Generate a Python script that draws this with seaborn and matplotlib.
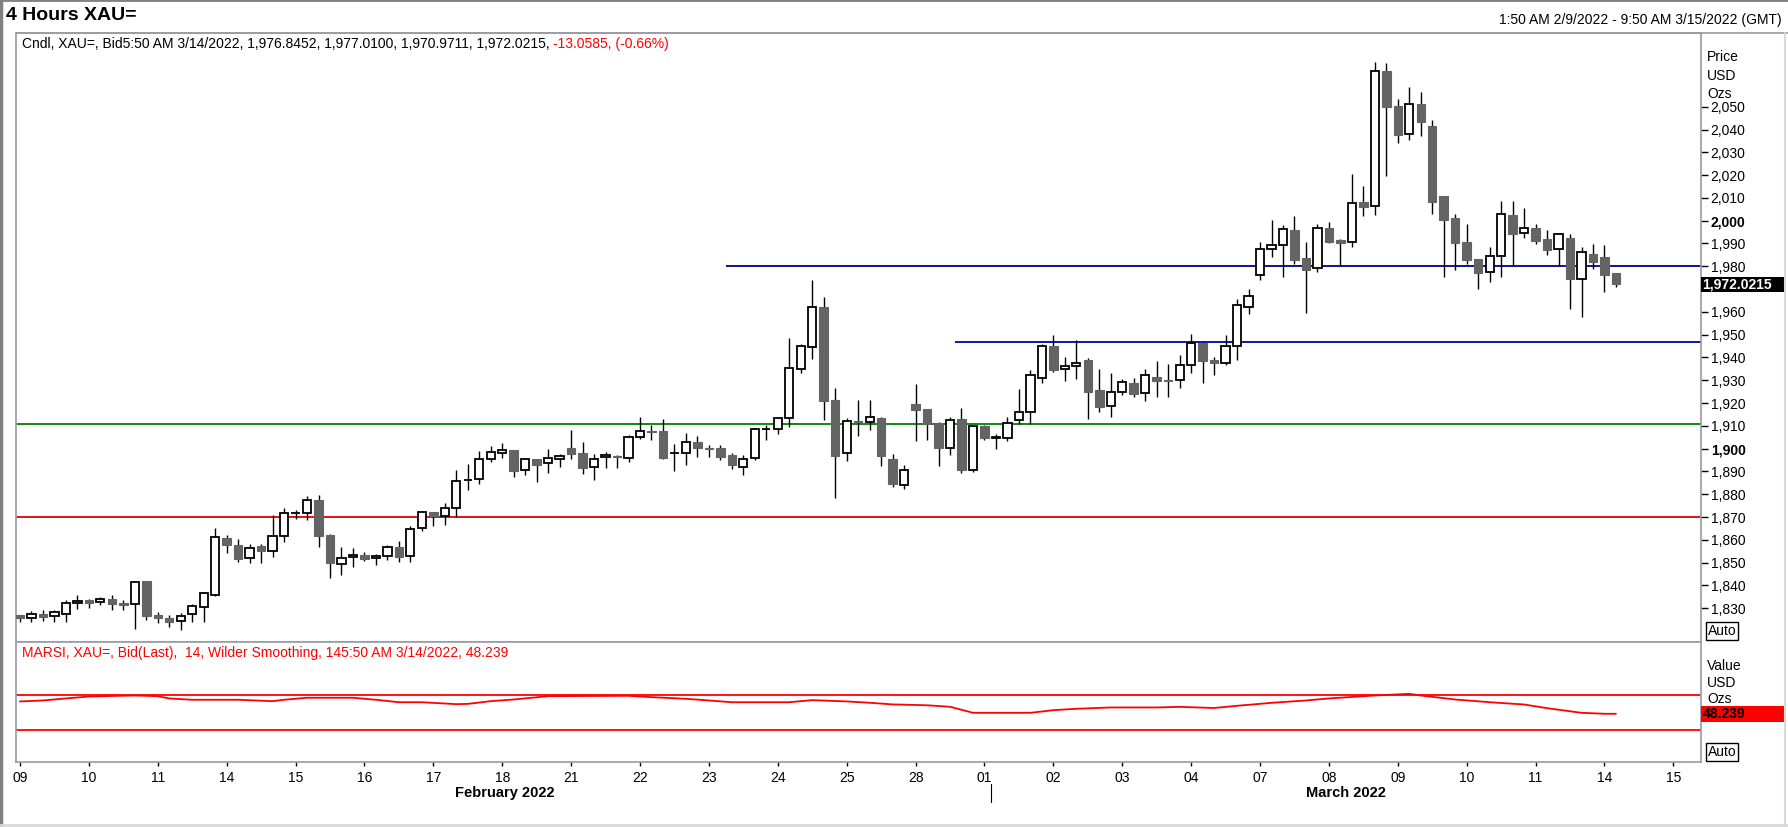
import matplotlib
matplotlib.use("Agg")
import matplotlib.pyplot as plt
import matplotlib.transforms as mtransforms
from matplotlib.patches import Rectangle
from matplotlib.lines import Line2D
import numpy as np
import pandas as pd
import seaborn as sns

# 4 hour XAU= candles, 1:50 AM 2/9/2022 .. 5:50 AM 3/14/2022 (6 bars a day)
opens = [
    1826.9, 1825.6, 1827.5, 1826.5, 1827.4, 1832.2, 1833.4, 1832.6, 1834.1, 1832.3,
    1831.7, 1842.0, 1826.9, 1825.7, 1824.3, 1827.4, 1830.7, 1835.7, 1860.8, 1857.8,
    1851.9, 1857.3, 1855.0, 1861.9, 1871.6, 1871.7, 1877.5, 1862.1, 1849.6, 1852.3,
    1853.4, 1851.9, 1852.8, 1857.0, 1852.8, 1865.1, 1872.2, 1870.6, 1873.8, 1886.1,
    1886.6, 1895.3, 1898.3, 1899.4, 1890.5, 1895.5, 1893.6, 1895.3, 1900.3, 1898.1,
    1891.8, 1896.2, 1896.8, 1896.1, 1905.0, 1907.6, 1907.8, 1897.97, 1898.3, 1902.9,
    1900.2, 1900.3, 1897.2, 1892.1, 1896.1, 1908.5, 1908.8, 1913.3, 1935.1, 1944.5,
    1962.1, 1921.4, 1898.0, 1912.0, 1911.9, 1913.5, 1895.4, 1884.2, 1919.6, 1917.4,
    1911.3, 1900.2, 1913.1, 1890.8, 1909.96, 1904.8, 1904.8, 1912.4, 1916.0, 1930.9,
    1945.0, 1934.8, 1936.1, 1938.8, 1925.6, 1918.6, 1924.7, 1928.8, 1924.3, 1931.3,
    1930.0, 1930.0, 1936.6, 1946.5, 1938.8, 1937.7, 1944.9, 1962.0, 1976.0, 1987.4,
    1989.2, 1995.9, 1983.5, 1979.1, 1996.7, 1991.4, 1990.5, 2008.2, 2006.3, 2065.7,
    2050.3, 2037.9, 2051.2, 2041.5, 2010.8, 2001.2, 1990.7, 1983.2, 1977.4, 1984.4,
    2002.5, 1994.5, 1996.7, 1992.0, 1987.4, 1992.4, 1974.3, 1985.4, 1984.1, 1976.8452,
]
highs = [
    1827.2, 1828.8, 1829.1, 1829.1, 1833.5, 1835.8, 1834.2, 1835.1, 1835.8, 1833.6,
    1841.8, 1842.0, 1828.4, 1826.9, 1828.0, 1831.9, 1837.2, 1865.2, 1862.1, 1860.4,
    1858.3, 1858.1, 1870.8, 1874.0, 1873.3, 1879.3, 1879.5, 1862.6, 1856.9, 1856.3,
    1854.5, 1853.8, 1857.8, 1859.5, 1866.1, 1872.7, 1872.3, 1876.2, 1890.7, 1893.3,
    1899.0, 1901.2, 1902.5, 1899.6, 1895.9, 1895.6, 1899.9, 1897.8, 1908.2, 1902.9,
    1897.7, 1898.6, 1897.4, 1906.2, 1913.9, 1910.4, 1913.0, 1902.1, 1906.9, 1905.6,
    1901.4, 1901.6, 1898.1, 1897.1, 1908.9, 1910.4, 1913.5, 1948.6, 1945.9, 1974.0,
    1966.5, 1926.5, 1913.5, 1921.4, 1921.4, 1914.0, 1897.7, 1892.85, 1928.4, 1917.5,
    1911.5, 1913.9, 1917.9, 1910.0, 1910.4, 1906.3, 1913.9, 1926.2, 1934.4, 1945.8,
    1949.9, 1940.2, 1947.7, 1939.8, 1935.0, 1933.2, 1930.6, 1931.0, 1935.0, 1938.3,
    1937.2, 1941.1, 1950.3, 1946.6, 1940.1, 1949.9, 1965.7, 1970.0, 1990.7, 2000.3,
    1998.1, 2002.1, 1990.7, 1998.6, 1999.3, 1992.0, 2020.5, 2015.2, 2069.6, 2069.2,
    2053.4, 2058.6, 2056.4, 2044.2, 2010.9, 2002.9, 1998.6, 1983.3, 1988.5, 2008.5,
    2008.5, 2005.6, 1998.6, 1995.8, 1994.6, 1994.2, 1988.5, 1989.8, 1989.3, 1977.0100,
]
lows = [
    1824.1, 1824.1, 1824.6, 1824.1, 1824.1, 1829.8, 1830.3, 1831.3, 1829.4, 1829.3,
    1820.9, 1824.9, 1823.7, 1821.9, 1820.5, 1824.1, 1824.1, 1835.5, 1854.4, 1850.3,
    1849.9, 1849.9, 1852.6, 1859.2, 1869.2, 1868.7, 1857.0, 1843.4, 1844.5, 1848.3,
    1850.5, 1849.0, 1851.3, 1850.3, 1850.3, 1864.0, 1866.2, 1866.7, 1869.9, 1881.9,
    1884.7, 1894.2, 1896.1, 1887.7, 1888.6, 1885.5, 1889.5, 1892.1, 1895.5, 1888.9,
    1886.3, 1891.7, 1891.7, 1894.2, 1904.4, 1903.8, 1895.5, 1890.4, 1892.9, 1896.5,
    1896.5, 1895.1, 1891.1, 1888.6, 1895.1, 1903.8, 1906.4, 1909.7, 1933.2, 1939.5,
    1912.7, 1878.5, 1894.8, 1905.7, 1908.2, 1892.6, 1883.0, 1882.5, 1903.5, 1903.8,
    1892.4, 1897.2, 1889.5, 1889.9, 1904.0, 1900.0, 1903.5, 1910.8, 1910.8, 1929.0,
    1933.6, 1929.8, 1930.7, 1913.2, 1916.0, 1914.1, 1923.7, 1922.8, 1921.1, 1922.8,
    1922.8, 1926.8, 1933.4, 1929.0, 1932.5, 1936.7, 1939.1, 1959.2, 1974.0, 1984.2,
    1975.5, 1980.9, 1959.7, 1977.7, 1990.1, 1980.0, 1988.6, 2002.2, 2002.6, 2019.6,
    2034.2, 2035.5, 2037.3, 2002.8, 1975.5, 1978.4, 1980.9, 1969.9, 1973.3, 1975.5,
    1980.0, 1992.6, 1989.8, 1984.9, 1980.0, 1961.1, 1957.9, 1979.0, 1968.9, 1970.9711,
]
closes = [
    1825.5, 1827.4, 1826.3, 1828.4, 1832.2, 1833.2, 1832.5, 1834.0, 1832.0, 1831.2,
    1841.4, 1826.8, 1825.5, 1824.1, 1826.5, 1830.9, 1836.6, 1861.1, 1857.9, 1851.8,
    1856.3, 1855.3, 1861.6, 1871.7, 1871.7, 1877.4, 1861.9, 1850.0, 1851.9, 1853.2,
    1851.8, 1852.9, 1856.9, 1852.6, 1864.8, 1872.1, 1870.5, 1873.8, 1885.8, 1886.4,
    1895.3, 1898.4, 1899.3, 1890.2, 1895.3, 1892.9, 1895.8, 1896.7, 1897.8, 1891.7,
    1895.3, 1897.1, 1896.2, 1905.0, 1907.6, 1907.5, 1895.9, 1898.3, 1902.8, 1900.5,
    1900.0, 1896.4, 1892.8, 1895.6, 1908.5, 1908.8, 1913.3, 1935.2, 1944.9, 1962.0,
    1921.1, 1896.9, 1912.0, 1911.9, 1913.8, 1896.9, 1884.6, 1890.5, 1917.1, 1910.8,
    1900.3, 1912.5, 1890.7, 1909.8, 1904.8, 1905.1, 1911.1, 1916.0, 1932.2, 1944.9,
    1934.5, 1936.2, 1937.7, 1925.0, 1918.4, 1924.7, 1929.1, 1924.1, 1932.2, 1929.8,
    1929.8, 1936.6, 1946.5, 1938.6, 1937.7, 1944.9, 1963.2, 1967.1, 1987.4, 1989.2,
    1996.2, 1982.8, 1978.5, 1996.7, 1990.8, 1990.4, 2007.6, 2006.2, 2065.5, 2050.0,
    2037.7, 2051.2, 2043.4, 2008.3, 2000.5, 1990.4, 1982.8, 1977.2, 1984.4, 2002.8,
    1994.3, 1996.7, 1991.2, 1987.3, 1994.2, 1974.6, 1986.3, 1982.0, 1976.3, 1972.0215,
]

day_labels = ["09", "10", "11", "14", "15", "16", "17", "18", "21", "22", "23", "24",
              "25", "28", "01", "02", "03", "04", "07", "08", "09", "10", "11", "14", "15"]
month_labels = ["February 2022", "March 2022"]
month_centers = [42.2, 115.5]
bars_per_day = 6

# drawn support / resistance levels: price, first bar
level_prices = [1910.6, 1870.0, 1980.0, 1946.7]
level_starts = [-0.37, -0.37, 61.5, 81.4]
level_colors = ["#008000", "#E00000", "#000088", "#0000A0"]

# MARSI(14, Wilder) read at a subset of bars
rsi_bars = [0, 2, 4, 6, 10, 12, 13, 15, 19, 22, 23, 25, 29, 31, 33, 35, 38, 39, 41, 43,
            46, 53, 55, 58, 60, 62, 67, 69, 72, 74, 76, 79, 81, 83, 88, 90, 92, 95, 99,
            101, 104, 106, 109, 112, 114, 118, 121, 122, 125, 128, 131, 133, 136, 138, 139]
rsi_values = [62.4, 63.5, 65.8, 68.0, 69.2, 68.4, 65.8, 64.3, 64.3, 62.7, 64.3, 66.6,
              66.6, 64.3, 61.5, 61.5, 59.3, 59.6, 62.7, 64.6, 68.4, 68.8, 67.3, 65.4,
              63.5, 61.5, 61.5, 63.9, 62.4, 60.9, 59.0, 58.0, 56.3, 49.4, 49.4, 52.4,
              54.0, 55.5, 55.5, 56.2, 54.9, 57.4, 60.8, 63.5, 65.8, 69.2, 71.1, 69.2,
              64.6, 61.5, 58.9, 54.7, 49.4, 48.3, 48.239]
rsi_bands = [70, 30]

price_ticks = list(range(1830, 2060, 10))
bold_ticks = [1900, 2000]

sns.set_theme(style="white")
plt.rcParams["font.family"] = ["Liberation Sans", "DejaVu Sans"]
plt.rcParams["text.color"] = "black"

df = pd.DataFrame({"open": opens, "high": highs, "low": lows, "close": closes})
df["bar"] = np.arange(len(df))
df["up"] = df.close >= df.open

fig = plt.figure(figsize=(17.88, 8.27), dpi=100)
fig.patch.set_facecolor("white")
ax = fig.add_axes([0.0088, 0.2243, 0.9425, 0.7354])
ax2 = fig.add_axes([0.0088, 0.078, 0.9425, 0.1463], sharex=ax)

xmin, xmax = -0.37, 146.4

# candles
ax.vlines(df.bar, df.low, df.high, color="black", lw=1.0, zorder=3)
up = df[df.up]
dn = df[~df.up]
ax.bar(up.bar, up.close - up.open, bottom=up.open, width=0.72,
       color="white", edgecolor="black", linewidth=1.3, zorder=4)
ax.bar(dn.bar, dn.open - dn.close, bottom=dn.close, width=0.74,
       color="#646464", edgecolor="#646464", linewidth=0.8, zorder=4)

for p, s, c in zip(level_prices, level_starts, level_colors):
    ax.hlines(p, s, xmax, color=c, lw=1.3, zorder=2)

last = closes[-1]
ax.set_xlim(xmin, xmax)
ax.set_ylim(1815.4, 2082.2)
ax.yaxis.tick_right()
# the tick label under the last-price marker is hidden, as on the terminal
ax.set_yticks(price_ticks, labels=["" if abs(v - last) < 6 else f"{v:,}" for v in price_ticks])
for t, v in zip(ax.get_yticklabels(), price_ticks):
    if v in bold_ticks:
        t.set_fontweight("bold")
ax.tick_params(axis="y", right=True, length=5, width=1, pad=2, labelsize=10,
               colors="black", direction="out")
ax.tick_params(axis="x", bottom=False, labelbottom=False)
ax.set_xlabel("")
ax.set_ylabel("")

# last price marker
blend_p = mtransforms.blended_transform_factory(ax.transAxes, ax.transData)
ax.add_patch(Rectangle((1.0, last - 3.5), 0.0498, 7.0, transform=blend_p,
                       fc="black", ec="none", clip_on=False, zorder=10))
ax.text(1.0008, last, f"{last:,.4f}", transform=blend_p,
        color="white", fontsize=10, fontweight="bold", va="center", ha="left", zorder=11)
ax.text(1.0042, 0.006, "Auto", transform=ax.transAxes, fontsize=10, va="bottom", ha="left",
        bbox=dict(boxstyle="square,pad=0.12", fc="white", ec="black", lw=1))

# RSI pane
sns.lineplot(x=rsi_bars, y=rsi_values, ax=ax2, color="red", lw=1.3)
for b in rsi_bands:
    ax2.axhline(b, color="red", lw=1.3)
ax2.set_ylim(-7.4, 130.9)
ax2.set_yticks([])
ax2.set_xticks([i * bars_per_day for i in range(len(day_labels))], labels=day_labels)
ax2.tick_params(axis="x", bottom=True, length=3, width=1, pad=3, labelsize=10,
                colors="black", direction="out")
ax2.set_xlim(xmin, xmax)

blend_r = mtransforms.blended_transform_factory(ax2.transAxes, ax2.transData)
ax2.add_patch(Rectangle((1.0, rsi_values[-1] - 9.2), 0.0498, 18.4, transform=blend_r,
                        fc="#FF0000", ec="none", clip_on=False, zorder=10))
ax2.text(1.0008, rsi_values[-1], f"{rsi_values[-1]:.3f}", transform=blend_r, color="black",
         fontsize=10, fontweight="bold", va="center", ha="left", zorder=11)
ax2.text(1.0042, 0.03, "Auto", transform=ax2.transAxes, fontsize=10, va="bottom", ha="left",
         bbox=dict(boxstyle="square,pad=0.12", fc="white", ec="black", lw=1))

for a in (ax, ax2):
    for sp in a.spines.values():
        sp.set_color("#9A9AA8")
        sp.set_linewidth(1.2)

# month labels and month divider under the x axis
blend_m = mtransforms.blended_transform_factory(ax2.transData, fig.transFigure)
for lab, c in zip(month_labels, month_centers):
    ax2.text(c, 0.041, lab, transform=blend_m, fontsize=10.5, fontweight="bold",
             ha="center", va="center", clip_on=False)
ax2.add_line(Line2D([84.6, 84.6], [0.030, 0.052], transform=blend_m, color="black",
                    lw=0.8, clip_on=False))

# header texts
fig.text(0.0034, 0.9807, "4 Hours XAU=", fontsize=14, fontweight="bold", va="center", ha="left")
fig.text(0.9966, 0.9764, "1:50 AM 2/9/2022 - 9:50 AM 3/15/2022 (GMT)", fontsize=10,
         va="center", ha="right")
t1 = fig.text(0.0123, 0.9474, "Cndl, XAU=, Bid5:50 AM 3/14/2022, 1,976.8452, 1,977.0100, "
              "1,970.9711, 1,972.0215, ", fontsize=10, va="center", ha="left")
fig.canvas.draw()
bb = t1.get_window_extent()
fig.text(bb.x1 / fig.bbox.width, 0.9474, "-13.0585, (-0.66%)", color="red", fontsize=10,
         va="center", ha="left")
fig.text(0.0123, 0.2104, "MARSI, XAU=, Bid(Last),  14, Wilder Smoothing, 145:50 AM 3/14/2022, 48.239",
         color="red", fontsize=10, va="center", ha="left")

for lab, y in zip(["Price", "USD", "Ozs"], [0.9305, 0.9087, 0.8869]):
    fig.text(0.9547, y, lab, fontsize=10, va="center", ha="left")
for lab, y in zip(["Value", "USD", "Ozs"], [0.1950, 0.1740, 0.1545]):
    fig.text(0.9547, y, lab, fontsize=10, va="center", ha="left", zorder=1)

# window frame lines
fig.add_artist(Line2D([0.0088, 1.0], [0.9597, 0.9597], color="#9A9AA8", lw=1.2))
fig.add_artist(Line2D([0.0008, 0.0008], [0.0, 1.0], color="#808080", lw=2.5))
fig.add_artist(Line2D([0.0, 1.0], [0.9995, 0.9995], color="#808080", lw=2))
fig.add_artist(Line2D([0.9985, 0.9985], [0.0, 0.96], color="#D8D8D8", lw=1.5))
fig.add_artist(Line2D([0.0, 1.0], [0.002, 0.002], color="#D8D8D8", lw=2))

fig.savefig("out.png", dpi=100, facecolor="white")
